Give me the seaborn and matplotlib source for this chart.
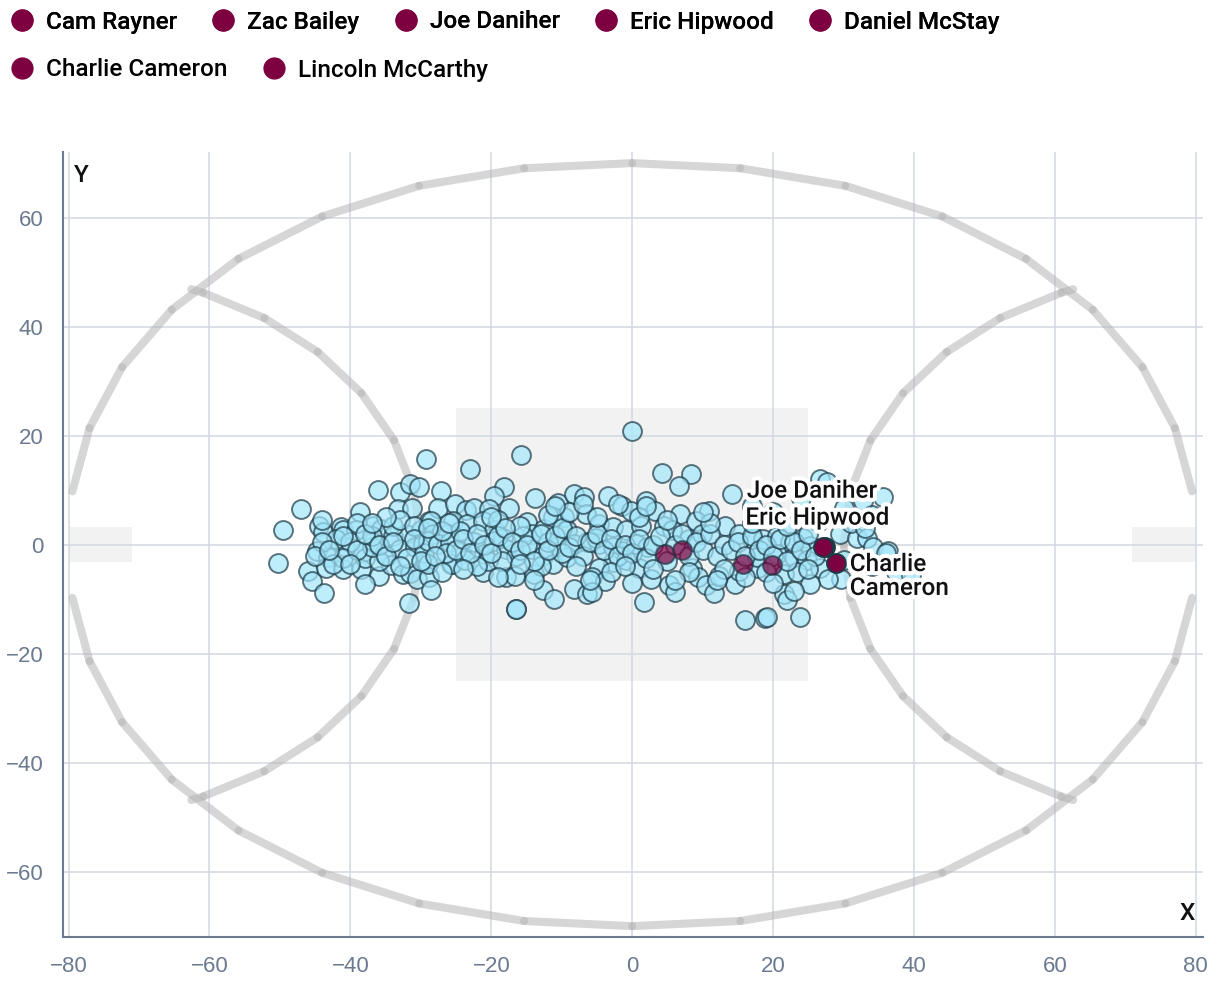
import numpy as np
import pandas as pd
import matplotlib
matplotlib.use("Agg")
import matplotlib.pyplot as plt
import matplotlib.patheffects as pe
from matplotlib.lines import Line2D
from matplotlib.patches import Rectangle
import seaborn as sns

#%% data - average positions (metres from centre of ground)
other_x = [
    -29.3, -36.1, -32.9, -31.6, -30.2, -47.0, -49.6, -50.3, -38.7, -33.3, -31.3, -28.8, -44.4, -43.9,
    -41.3, -41.1, -39.2, -36.8, -35.6, -34.0, -32.1, -30.0, -44.8, -43.2, -40.8, -38.2, -36.8, -35.2,
    -33.0, -30.9, -29.7, -46.0, -45.5, -43.4, -41.1, -38.5, -35.9, -34.2, -32.6, -31.6, -30.5, -29.3,
    -43.7, -37.9, -31.7, -28.8, -42.0, -40.0, -38.0, -36.0, -34.0, -39.0, -44.0, -37.0, -33.0, -41.0,
    -35.0, -31.0, -29.5, -42.5, -37.0,
    -23.0, -15.8, -18.2, -19.6, -17.5, -13.8, -27.2, -27.6, -25.2, -23.6, -22.4, -20.3, -28.6, -28.3,
    -29.0, -25.5, -26.2, -23.4, -21.2, -19.6, -18.4, -14.9, -14.2, -12.5, -10.6, -8.3, -6.8, -9.7,
    -11.3, -6.6, -9.2, -10.6, -8.3, -6.4, -27.6, -25.9, -24.3, -22.4, -21.0, -19.6, -17.9, -16.5,
    -14.2, -12.7, -25.7, -25.6, -23.8, -21.2, -17.9, -16.7, -13.9, -11.3, -9.2, -12.7, -11.1, -8.3,
    -6.4, -16.5, -16.5, -28.6, -29.0, -20.5, -15.5, -12.0, -22.0, -19.0, -26.5, -16.0, -10.0, -13.0,
    -18.5, -24.5,
    -0.1, 4.2, 8.3, 6.6, 14.1, -3.4, -1.4, -0.2, 1.9, 3.3, 6.8, 10.9, 9.0, -4.7, -2.8, -0.9, 1.2, 4.5,
    5.7, 8.0, 9.9, 13.2, 15.1, 17.0, -4.7, -2.8, -1.4, 0.5, 2.1, -2.8, -0.9, 0.9, 2.6, -4.7, -5.7,
    -3.8, -5.7, 5.2, 6.1, 8.5, 9.4, 10.4, 11.6, 12.3, 14.6, 15.1, 17.9, 1.7, 16.0, 18.8, -5.2,
    26.7, 27.6, 35.6, 32.8, 30.0, 26.4, 18.6, 20.5, 22.4, 24.3, 25.2, 29.5, 31.9, 33.3, 34.2, 36.3,
    17.7, 20.5, 22.9, 24.8, 26.7, 30.0, 29.7, 27.8, 21.5, 23.4, 25.2, 21.5, 21.9, 19.1, 23.8, 34.0,
    31.0, 33.0, 36.0, 37.5, 39.5, 34.0, 24.0, 20.0, 17.0,
    -45, -43, -41, -39, -38, -36, -35, -34, -32, -31, -30, -28, -27, -26, -25, -24, -23, -22, -21,
    -20, -19, -18, -17, -16, -15, -14, -13, -12, -11, -10, -9, -8, -7, -6, -5, -4, -3, -2, -1, 0, 1,
    2, 3, 4, 5, 6, 7, 8, 9, 10, 11, 12, 13, 14, 15, 16, 17, 18, 19, 20, 21, 22, 23, 24, 25, 26,
    -44, -40, -37, -33, -29, -24, -20, -16, -12, -8, -5, -3, 1, 3, 5, 8, 11, 13, 17, 19, 22, 25,
    -27, -9, -2, 2, 10, -6, 0, 6, 12, -14, -19, -7, -11, -1, 16, 20, 23,
]
other_y = [
    15.7, 10.0, 9.7, 11.2, 10.5, 6.5, 2.6, -3.4, 5.9, 6.5, 6.7, 4.4, 3.5, 2.3,
    3.2, 2.6, 2.6, 3.5, 2.9, 1.6, 1.9, 2.6, -1.1, -2.3, -0.5, -1.4, 0.4, -1.7,
    -0.8, -0.5, 0.1, -4.8, -6.6, -4.2, -4.4, -4.4, -5.7, -3.8, -5.4, -5.2, -6.3, -3.2,
    -8.9, -7.3, -10.8, -6.0, 1.0, 0.5, -2.5, -3.0, 3.5, 4.0, 0.5, -0.5, 4.5, -2.5,
    5.0, 3.5, -1.5, -3.5, 1.5,
    13.8, 16.4, 10.6, 9.0, 6.8, 8.5, 9.8, 6.8, 7.4, 6.3, 6.8, 6.5, 4.4, 1.9,
    0.7, 4.4, 1.9, 3.8, 4.4, 2.6, 1.3, 4.1, 1.9, 2.9, 7.7, 9.3, 8.7, 5.0,
    5.0, 5.6, 2.6, -0.2, 0.1, 0.4, 0.1, 0.4, -1.1, 0.4, -1.7, 0.7, -0.8, -2.0,
    -0.8, -2.0, -3.5, -3.6, -2.9, -5.1, -6.0, -5.7, -5.4, -3.5, -2.3, -8.4, -9.9, -8.1,
    -9.0, -11.9, -11.9, -8.4, -3.5, -3.0, 1.5, 0.5, -4.0, 4.5, -1.5, 3.5, -1.5, -4.0,
    -3.0, 2.5,
    20.9, 13.1, 12.9, 10.7, 9.3, 9.0, 7.1, 6.2, 8.0, 6.2, 5.6, 6.2, 4.4, 3.8, 3.2, 2.6, 3.5, 3.5,
    2.6, 1.0, 1.9, 3.5, 1.9, 1.0, 0.1, -0.5, -1.1, 0.1, -0.5, -3.2, -2.9, -4.2, -6.3, -4.2, -6.0,
    -6.6, -8.7, -7.5, -8.7, -4.2, -6.0, -7.5, -8.9, -5.7, -7.2, -4.8, -4.2, -10.6, -13.9, -13.4, 1.3,
    12.0, 11.4, 8.7, 8.0, 6.8, 4.1, 1.0, 1.6, 0.4, 1.3, -0.2, 1.9, 1.3, 1.3, -0.5, -1.1,
    -2.3, -1.7, -2.3, -2.9, -4.2, -2.9, -6.3, -6.3, -5.4, -5.1, -7.2, -9.0, -10.2, -13.3, -13.3, 5.5,
    4.0, 3.0, -1.5, -5.0, -5.5, -4.0, 8.5, 6.0, 7.0,
    -2, -1, 1.5, -1, 2, 0, -2, 0.5, -2.5, 1, -3, -2, 2.5, 4, -1, 1, -1.5, 2, 0,
    -1.5, 1.5, 3, 0.5, -1, 0, -3, 2, -1, 1.5, 3, -0.5, 1.5, -2, 0.5, 2, -1, 1, -2, 0, -1.5, 1,
    -2.5, 0, 1.5, -3, 0, 2, -2, 0.5, -1, 2, -2, 0, -1, 0.5, -2, 1.5, -1, 0, -2, 1, -3, 0.5, -1, 2, -2,
    4.5, -3.5, 4, -4, 3, -4.5, 5, -3.5, 5.5, -4, 5, -5, 5, -4.5, 4.5, -5, 4, -4.5, 4, -5, 3.5, -4.5,
    -5, 6, 7.5, 7, 6, -6.5, -7, -6.5, -6.5, -6.5, -6, 7.5, 7, -4, -6, -7, -8.5,
]

players = ["Cam Rayner", "Zac Bailey", "Joe Daniher", "Eric Hipwood",
           "Daniel McStay", "Charlie Cameron", "Lincoln McCarthy"]
player_x = [4.7, 7.1, 27.3, 27.1, 15.7, 28.9, 19.8]
player_y = [-1.8, -1.0, -0.4, -0.5, -3.5, -3.3, -3.8]
labelled = ["Joe Daniher", "Eric Hipwood", "Charlie Cameron"]

others = pd.DataFrame({"x": other_x, "y": other_y})
brisbane = pd.DataFrame({"player": players, "x": player_x, "y": player_y})

#%% colours
maroon = "#7d0040"
blue = "#a3e6fb"
edge = "#1d3a46"
line_grey = "#b5b5b5"
slate = "#6b7a90"

#%% figure
fig = plt.figure(figsize=(12.2, 10.08), dpi=100)
ax = fig.add_axes([0.0516, 0.0704, 0.9344, 0.7786])
ax.set_xlim(-80.8, 81)
ax.set_ylim(-72, 72)

# ground markings
ax.add_patch(Rectangle((-25, -25), 50, 50, color="#f2f2f2", lw=0, zorder=0.2))
ax.add_patch(Rectangle((-80, -3.2), 9, 6.4, color="#f2f2f2", lw=0, zorder=0.2))
ax.add_patch(Rectangle((71, -3.2), 9, 6.4, color="#f2f2f2", lw=0, zorder=0.2))


def boundary(phi_deg, n=2.15):
    phi = np.radians(phi_deg)
    c, s = np.cos(phi), np.sin(phi)
    k = (np.abs(c) ** n + np.abs(s) ** n) ** (-1 / n)
    return 80 * c * k, 70 * s * k


def draw_segments(xs, ys):
    for i in range(len(xs) - 1):
        ax.plot(xs[i:i + 2], ys[i:i + 2], color=line_grey, lw=5.8, alpha=0.55,
                solid_capstyle="round", zorder=1)


quarter = np.array([8, 17.6, 27.2, 37, 47, 57.4, 68.1, 79, 90])
top = np.concatenate([quarter, 180 - quarter[::-1][1:]])
bx, by = boundary(top)
draw_segments(bx, by)
draw_segments(bx, -by)

arc = np.concatenate([[69.6], np.arange(67.5, -67.6, -11.25), [-69.6]])
ax_, ay_ = 50 * np.cos(np.radians(arc)), 50 * np.sin(np.radians(arc))
draw_segments(-80 + ax_, ay_)
draw_segments(80 - ax_, ay_)

# points
sns.scatterplot(data=others, x="x", y="y", ax=ax, s=185, color=blue,
                edgecolor=edge, linewidth=1.4, alpha=0.7, legend=False, zorder=3)
faded = brisbane[~brisbane["player"].isin(labelled)]
strong = brisbane[brisbane["player"].isin(labelled)]
sns.scatterplot(data=faded, x="x", y="y", ax=ax, s=185, color=maroon,
                edgecolor=edge, linewidth=1.4, alpha=0.7, legend=False, zorder=4)
sns.scatterplot(data=strong, x="x", y="y", ax=ax, s=185, color=maroon,
                edgecolor=edge, linewidth=1.4, alpha=1, legend=False, zorder=5)

# labels
halo = [pe.withStroke(linewidth=6, foreground="white")]
lab_font = dict(family="Roboto", weight="medium", size=17.5, color="#111111")
offsets = {"Joe Daniher": (-56, 40, "Joe Daniher"),
           "Eric Hipwood": (-56, 21, "Eric Hipwood"),
           "Charlie Cameron": (10, -10, "Charlie\nCameron")}
for _, r in strong.iterrows():
    dx, dy, txt = offsets[r["player"]]
    ax.annotate(txt, (r["x"], r["y"]), xytext=(dx, dy), textcoords="offset points",
                ha="left", va="center", linespacing=1.05, path_effects=halo,
                zorder=6, **lab_font)

# axes styling
ax.set_xticks(np.arange(-80, 81, 20))
ax.set_yticks(np.arange(-60, 61, 20))
ax.grid(True, color="#d5dae3", lw=1.2)
ax.set_axisbelow(True)
for side in ["top", "right"]:
    ax.spines[side].set_visible(False)
for side in ["left", "bottom"]:
    ax.spines[side].set_color(slate)
    ax.spines[side].set_linewidth(1.5)
ax.tick_params(length=0, labelsize=16, labelcolor=slate, pad=14)
for t in ax.get_xticklabels() + ax.get_yticklabels():
    t.set_family("Liberation Sans")
ax.set_xlabel("")
ax.set_ylabel("")
ax.text(0.01, 0.985, "Y", transform=ax.transAxes, ha="left", va="top", **lab_font)
ax.text(0.993, 0.015, "X", transform=ax.transAxes, ha="right", va="bottom", **lab_font)

# legend in two rows
handles = [Line2D([], [], marker="o", ls="", markersize=16, markerfacecolor=maroon,
                  markeredgewidth=0, label=p) for p in players]
leg_font = dict(family="Roboto", weight="medium", size=17.5)
for row, (hs, nc) in enumerate([(handles[:5], 5), (handles[5:], 2)]):
    lg = fig.legend(handles=hs, loc="center left", ncol=nc,
                    bbox_to_anchor=(0.0091, 1 - (22 + 48 * row) / 1008),
                    frameon=False, prop=leg_font, handlelength=0.9,
                    handletextpad=0.54, columnspacing=1.45, borderpad=0, borderaxespad=0)
    if row == 0:
        fig.add_artist(lg)

fig.savefig("out.png", dpi=100)
